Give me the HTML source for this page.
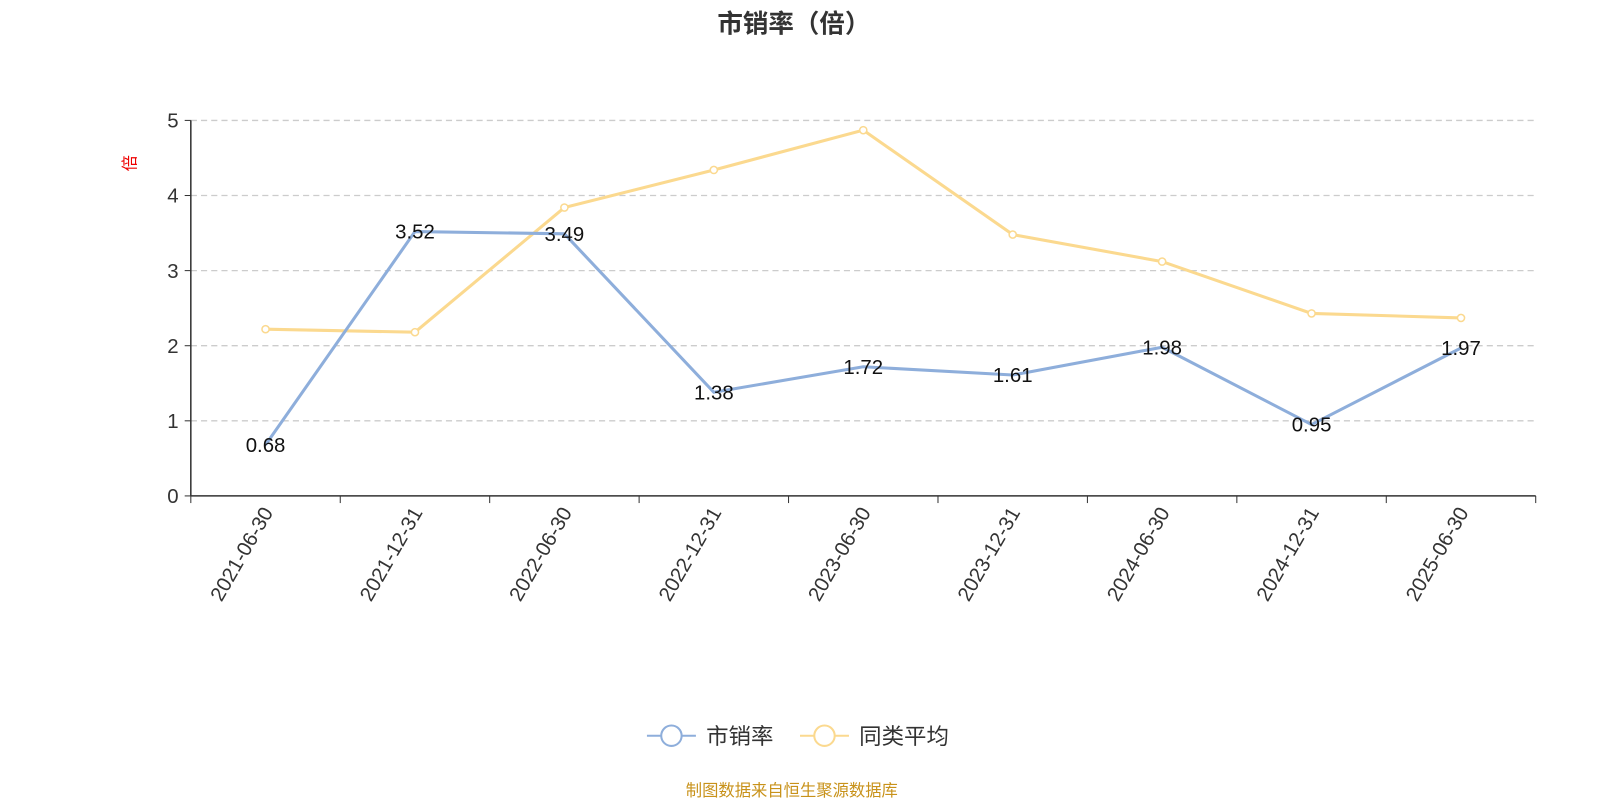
<!DOCTYPE html>
<html><head><meta charset="utf-8"><style>
body{margin:0;background:#fff;font-family:"Liberation Sans","Noto Sans CJK SC",sans-serif;}
svg text{font-family:"Liberation Sans","Noto Sans CJK SC",sans-serif;}
</style></head><body>
<svg id="c" width="1600" height="800" viewBox="0 0 1568 784" xmlns="http://www.w3.org/2000/svg">
<text x="778" y="32" text-anchor="middle" font-size="25" font-weight="bold" fill="#333">市销率（倍）</text>
<text transform="translate(133,160) rotate(-90)" text-anchor="middle" font-size="16" fill="#e00">倍</text>
<g id="grid"></g><g id="axes"></g><g id="series"></g>
<g>
<g><line x1="634" y1="721" x2="682" y2="721" stroke="#8eaedb" stroke-width="2"/><circle cx="658" cy="721" r="10" fill="#fff" stroke="#8eaedb" stroke-width="2"/><text x="692" y="729" font-size="22" fill="#333">市销率</text></g>
<g><line x1="784" y1="721" x2="832" y2="721" stroke="#fbd98f" stroke-width="2"/><circle cx="808" cy="721" r="10" fill="#fff" stroke="#fbd98f" stroke-width="2"/><text x="842" y="729" font-size="22" fill="#333">同类平均</text></g>
</g>
<text x="776" y="780" text-anchor="middle" font-size="16" fill="#c8921a">制图数据来自恒生聚源数据库</text>
</svg>
<script>
const categories=["2021-06-30","2021-12-31","2022-06-30","2022-12-31","2023-06-30","2023-12-31","2024-06-30","2024-12-31","2025-06-30"];
const psValues=[0.68,3.52,3.49,1.38,1.72,1.61,1.98,0.95,1.97];
const avgValues=[2.22,2.18,3.84,4.34,4.87,3.48,3.12,2.43,2.37];
const yTicks=[0,1,2,3,4,5];
const NS="http://www.w3.org/2000/svg";
const L=187,R=1505,T=118,B=486,yMax=5;
const bw=(R-L)/categories.length;
const xS=i=>L+bw*(i+0.5);
const yS=v=>B-(v/yMax)*(B-T);
function mk(tag,attrs,parent){const e=document.createElementNS(NS,tag);for(const k in attrs)e.setAttribute(k,attrs[k]);parent.appendChild(e);return e;}
const grid=document.getElementById('grid'),axes=document.getElementById('axes'),ser=document.getElementById('series');
yTicks.forEach(t=>{
 const y=yS(t);
 if(t>0){const g=mk('line',{x1:L,x2:R,y1:y,y2:y,stroke:'#ccc','stroke-dasharray':'6,4','stroke-width':1.3},grid);
 
 }
 const tk=mk('line',{x1:L-6,x2:L,y1:y,y2:y,stroke:'#333'},axes);
 
 
 const tx=mk('text',{x:L-12,y:y+7,'text-anchor':'end','font-size':20,fill:'#333'},axes);
 tx.textContent=t;
 
 
});
const ya=mk('line',{x1:L,x2:L,y1:T,y2:B,stroke:'#333','stroke-width':1.5},axes);


const xa=mk('line',{x1:L,x2:R,y1:B,y2:B,stroke:'#333','stroke-width':1.5},axes);


for(let i=0;i<=categories.length;i++){
 const x=L+bw*i;
 const tk=mk('line',{x1:x,x2:x,y1:B,y2:B+7,stroke:'#333'},axes);
 
 
}
categories.forEach((c,i)=>{
 const x=xS(i);
 const tx=mk('text',{transform:`translate(${x+8},${B+16}) rotate(-60)`,'text-anchor':'end','font-size':20,fill:'#333'},axes);
 tx.textContent=c;
 
 
});
function line(vals,color,name,markers,labels){
 const p=mk('polyline',{points:vals.map((v,i)=>xS(i)+','+yS(v)).join(' '),fill:'none',stroke:color,'stroke-width':3},ser);
 
 
 vals.forEach((v,i)=>{
  if(markers){const c=mk('circle',{cx:xS(i),cy:yS(v),r:3.5,fill:'#fff',stroke:color,'stroke-width':1.5},ser);
  
  }
  if(labels){const t=mk('text',{x:xS(i),y:yS(v)+7,'text-anchor':'middle','font-size':20,fill:'#111'},ser);
  t.textContent=v.toFixed(2);
  
  }
 });
}
line(avgValues,'#fbd98f','avg',true,false);
line(psValues,'#8eaedb','ps',false,true);
</script>
</body></html>
